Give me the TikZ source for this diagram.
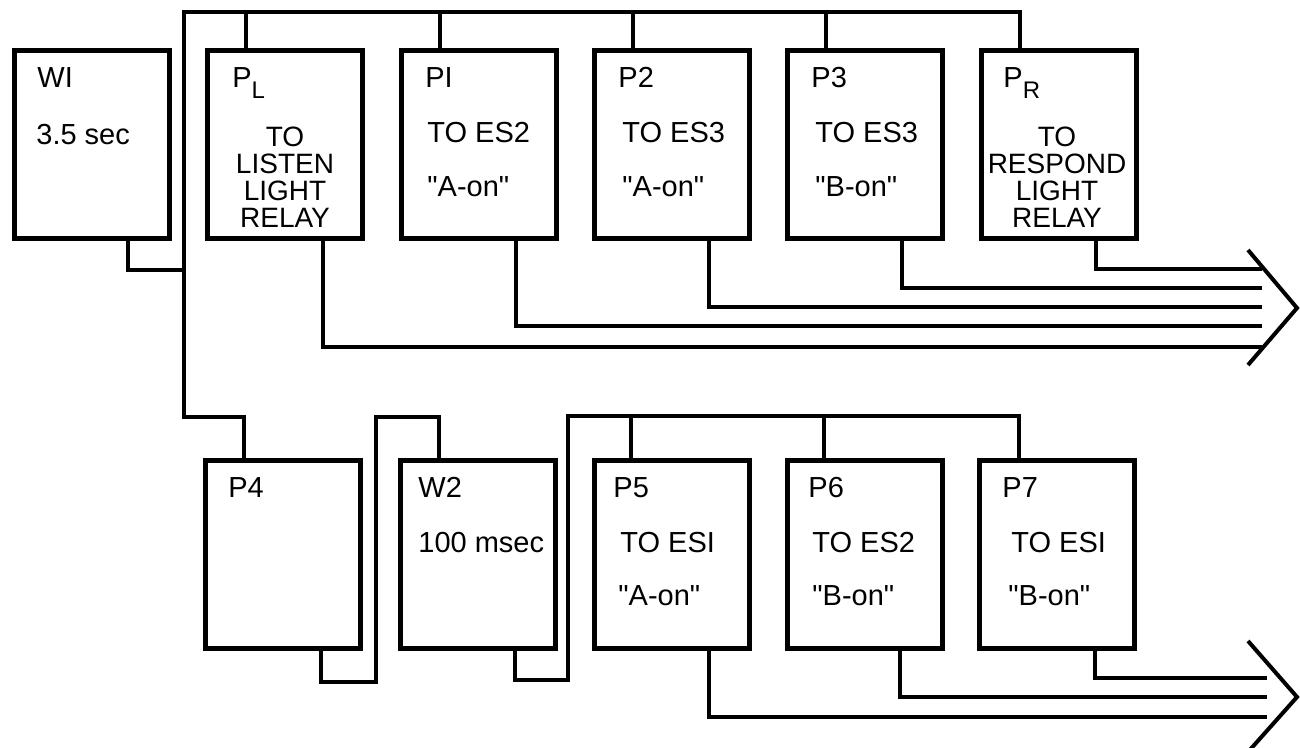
\documentclass[tikz,border=0pt]{standalone}
\usepackage{fontspec}
\setmainfont{Liberation Sans}[Ligatures=TeXOff]
\usetikzlibrary{calc}
\newcommand\sq{\symbol{34}}
\begin{document}
\begin{tikzpicture}[x=0.5pt,y=-0.5pt,
  box/.style={draw,line width=2.3pt,minimum width=77.5pt,minimum height=94pt,inner sep=0pt,anchor=north west},
  wire/.style={line width=1.8pt,line join=miter},
  lbl/.style={anchor=base west,inner sep=0pt,font=\fontsize{14.5}{16}\selectfont},
  clbl/.style={anchor=north,inner sep=0pt,align=center,font=\fontsize{14}{13.5}\selectfont},
  chev/.style={line width=2pt}]
\useasboundingbox (0,0) rectangle (1300,748);
% boxes
\node[box] (W1) at (12,48) {};
\node[box] (PL) at (205,48) {};
\node[box] (P1) at (399,48) {};
\node[box] (P2) at (592,48) {};
\node[box] (P3) at (785,48) {};
\node[box] (PR) at (979,48) {};
\node[box] (P4) at (203,458) {};
\node[box] (W2) at (398,458) {};
\node[box] (P5) at (592,458) {};
\node[box] (P6) at (785,458) {};
\node[box] (P7) at (977,458) {};
% texts
\node[lbl] (W1a) at (37,88) {WI};
\node[lbl] (W1b) at (36,145) {3.5 sec};
\node[lbl] (PLa) at (232,88) {P\raisebox{-5.5pt}{\fontsize{12}{12}\selectfont L}};
\node[clbl] (PLb) at (285,127) {TO\\LISTEN\\LIGHT\\RELAY};
\node[lbl] (P1a) at (425,88) {PI};
\node[lbl] (P1b) at (427,143) {TO ES2};
\node[lbl] (P1c) at (427,197) {\sq A-on\sq};
\node[lbl] (P2a) at (618,88) {P2};
\node[lbl] (P2b) at (622,143) {TO ES3};
\node[lbl] (P2c) at (622,197) {\sq A-on\sq};
\node[lbl] (P3a) at (811,88) {P3};
\node[lbl] (P3b) at (815,143) {TO ES3};
\node[lbl] (P3c) at (815,197) {\sq B-on\sq};
\node[lbl] (PRa) at (1003,88) {P\raisebox{-5.5pt}{\fontsize{12}{12}\selectfont R}};
\node[clbl] (PRb) at (1057,127) {TO\\RESPOND\\LIGHT\\RELAY};
\node[lbl] (P4a) at (228,497) {P4};
\node[lbl] (W2a) at (418,497) {W2};
\node[lbl] (W2b) at (418,552) {100 msec};
\node[lbl] (P5a) at (613,497) {P5};
\node[lbl] (P5b) at (620,552) {TO ESI};
\node[lbl] (P5c) at (618,605) {\sq A-on\sq};
\node[lbl] (P6a) at (808,497) {P6};
\node[lbl] (P6b) at (812,552) {TO ES2};
\node[lbl] (P6c) at (812,605) {\sq B-on\sq};
\node[lbl] (P7a) at (1002,497) {P7};
\node[lbl] (P7b) at (1011,552) {TO ESI};
\node[lbl] (P7c) at (1008,605) {\sq B-on\sq};
% bus coordinates
\coordinate (tb) at (184,12);
\coordinate (tj) at (184,270);
\coordinate (tl) at (184,417);
\coordinate (c1) at (376,682);
\coordinate (c2) at (376,417);
\coordinate (c3) at (568,680);
\coordinate (c4) at (568,416);
\coordinate (eR) at (1262,269);
\coordinate (e3) at (1262,288);
\coordinate (e2) at (1262,307);
\coordinate (e1) at (1262,326);
\coordinate (eL) at (1262,347);
\coordinate (f7) at (1267,678);
\coordinate (f6) at (1267,697);
\coordinate (f5) at (1267,717);
% top wiring
\draw[wire] ($(W1.south)+(36,0)$) |- (tj);
\draw[wire] ($(PR.north)+(-39,0)$) |- (tb) -- (tl) -| ($(P4.north)+(-39,0)$);
\foreach \n in {PL,P1,P2,P3} \draw[wire] ($(\n.north)+(-39,0)$) -- ++(0,-36);
\draw[wire] ($(PR.south)+(37,0)$) |- (eR);
\draw[wire] ($(P3.south)+(37,0)$) |- (e3);
\draw[wire] ($(P2.south)+(37,0)$) |- (e2);
\draw[wire] ($(P1.south)+(37,0)$) |- (e1);
\draw[wire] ($(PL.south)+(38,0)$) |- (eL);
% bottom wiring
\draw[wire] ($(P4.south)+(38,0)$) |- (c1) -- (c2) -| ($(W2.north)+(-39,0)$);
\draw[wire] ($(W2.south)+(37,0)$) |- (c3) -- (c4) -| ($(P7.north)+(-38,0)$);
\foreach \n in {P5,P6} \draw[wire] ($(\n.north)+(-41,0)$) -- ++(0,-42);
\draw[wire] ($(P7.south)+(38,0)$) |- (f7);
\draw[wire] ($(P6.south)+(35,0)$) |- (f6);
\draw[wire] ($(P5.south)+(37,0)$) |- (f5);
% chevrons
\coordinate (a1t) at (1248,250);
\coordinate (a1) at (1297,308);
\coordinate (a1b) at (1248,365);
\coordinate (a2t) at (1248,641);
\coordinate (a2) at (1297,697);
\coordinate (a2b) at (1248,752);
\draw[chev] (a1t) -- (a1) -- (a1b);
\draw[chev] (a2t) -- (a2) -- (a2b);
\end{tikzpicture}
\end{document}
